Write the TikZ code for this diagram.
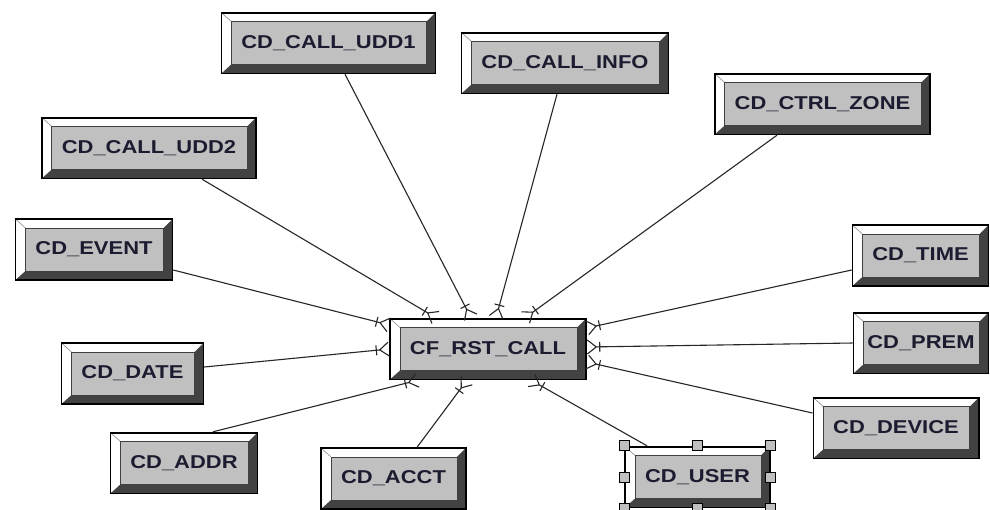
\documentclass[tikz,border=0pt]{standalone}
\usepackage{fontspec}
\usepackage{xcolor}
\usepackage{tikz}
\usetikzlibrary{arrows.meta}
\newfontfamily\boxfont{Liberation Sans Bold}[FakeStretch=1.18]
\definecolor{facegray}{HTML}{C0C0C0}
\definecolor{shadegray}{HTML}{424242}
\definecolor{inkblue}{HTML}{1C1C30}

\begin{document}
\begin{tikzpicture}[x=1pt, y=-1pt,
		tbl/.style={draw=black, line width=1.4pt, fill=white, minimum height=61pt, inner xsep=20pt,
			font=\boxfont\fontsize{18.6}{20}\selectfont, text=inkblue,
			path picture={
				\coordinate (bsw) at (path picture bounding box.south west);
				\coordinate (bne) at (path picture bounding box.north east);
				\coordinate (isw) at ([shift={(10pt,9pt)}]bsw);
				\coordinate (ine) at ([shift={(-9pt,-9pt)}]bne);
				\fill[shadegray] (bsw) -- (bsw -| bne) -- (bne) -- (ine) -- (isw -| ine) -- (isw) -- cycle;
				\draw[black!45, line width=0.6pt] (bsw |- bne) -- (isw |- ine);
				\filldraw[fill=facegray, draw=black!75, line width=0.7pt] (isw) rectangle (ine);
				\draw[black, line width=2pt] (bsw) rectangle (bne);
			}},
		rel/.style={draw=black!85, line width=1.1pt, -{Bar[width=10pt,sep=2pt]Straight Barb[reversed,length=9pt,width=14pt]}},
		hdl/.style={draw=black, line width=0.7pt, fill=facegray, minimum size=10pt, inner sep=0pt}]
	\path[use as bounding box, fill=white] (0,0) rectangle (990,509);
	% Nodes
	\node[tbl] (fact) at (488,349) {CF\_RST\_CALL};
	\node[tbl] (udd1) at (328.5,43) {CD\_CALL\_UDD1};
	\node[tbl] (info) at (565,63) {CD\_CALL\_INFO};
	\node[tbl] (zone) at (822.5,104) {CD\_CTRL\_ZONE};
	\node[tbl] (udd2) at (149,148) {CD\_CALL\_UDD2};
	\node[tbl] (event) at (94,249.5) {CD\_EVENT};
	\node[tbl] (time) at (920.5,255.5) {CD\_TIME};
	\node[tbl, inner xsep=14pt] (prem) at (921,343) {CD\_PREM};
	\node[tbl] (date) at (132.5,373.5) {CD\_DATE};
	\node[tbl] (device) at (896,428) {CD\_DEVICE};
	\node[tbl] (addr) at (184,463) {CD\_ADDR};
	\node[tbl] (acct) at (393.5,478.5) {CD\_ACCT};
	\node[tbl] (user) at (697.5,477) {CD\_USER};
	% Edges to the fact table
	\draw[rel] ([xshift=53pt]udd2.south) -- ([xshift=-52pt]fact.north);
	\draw[rel] ([xshift=16.5pt]udd1.south) -- ([xshift=-17pt]fact.north);
	\draw[rel] ([xshift=-8pt]info.south) -- ([xshift=8pt]fact.north);
	\draw[rel] ([xshift=-45.5pt]zone.south) -- ([xshift=37pt]fact.north);
	\draw[rel] ([yshift=-20.5pt]event.east) -- ([yshift=24pt]fact.west);
	\draw[rel] ([yshift=-14.5pt]time.west) -- ([yshift=21pt]fact.east);
	\draw[rel] (prem.west) -- ([yshift=2pt]fact.east);
	\draw[rel] ([yshift=15pt]device.west) -- ([yshift=-13pt]fact.east);
	\draw[rel] ([yshift=6.5pt]date.east) -- (fact.west);
	\draw[rel] ([xshift=29pt]addr.north) -- ([xshift=-70pt]fact.south);
	\draw[rel] ([xshift=23.5pt]acct.north) -- ([xshift=-21pt]fact.south);
	\draw[rel] ([xshift=-50.5pt]user.north) -- ([xshift=43pt]fact.south);
	% Selection handles
	\foreach \a [count=\i] in {north west,north,north east,east,south east,south,south west,west}
		\node[hdl] (h\i) at (user.\a) {};
\end{tikzpicture}
\end{document}
